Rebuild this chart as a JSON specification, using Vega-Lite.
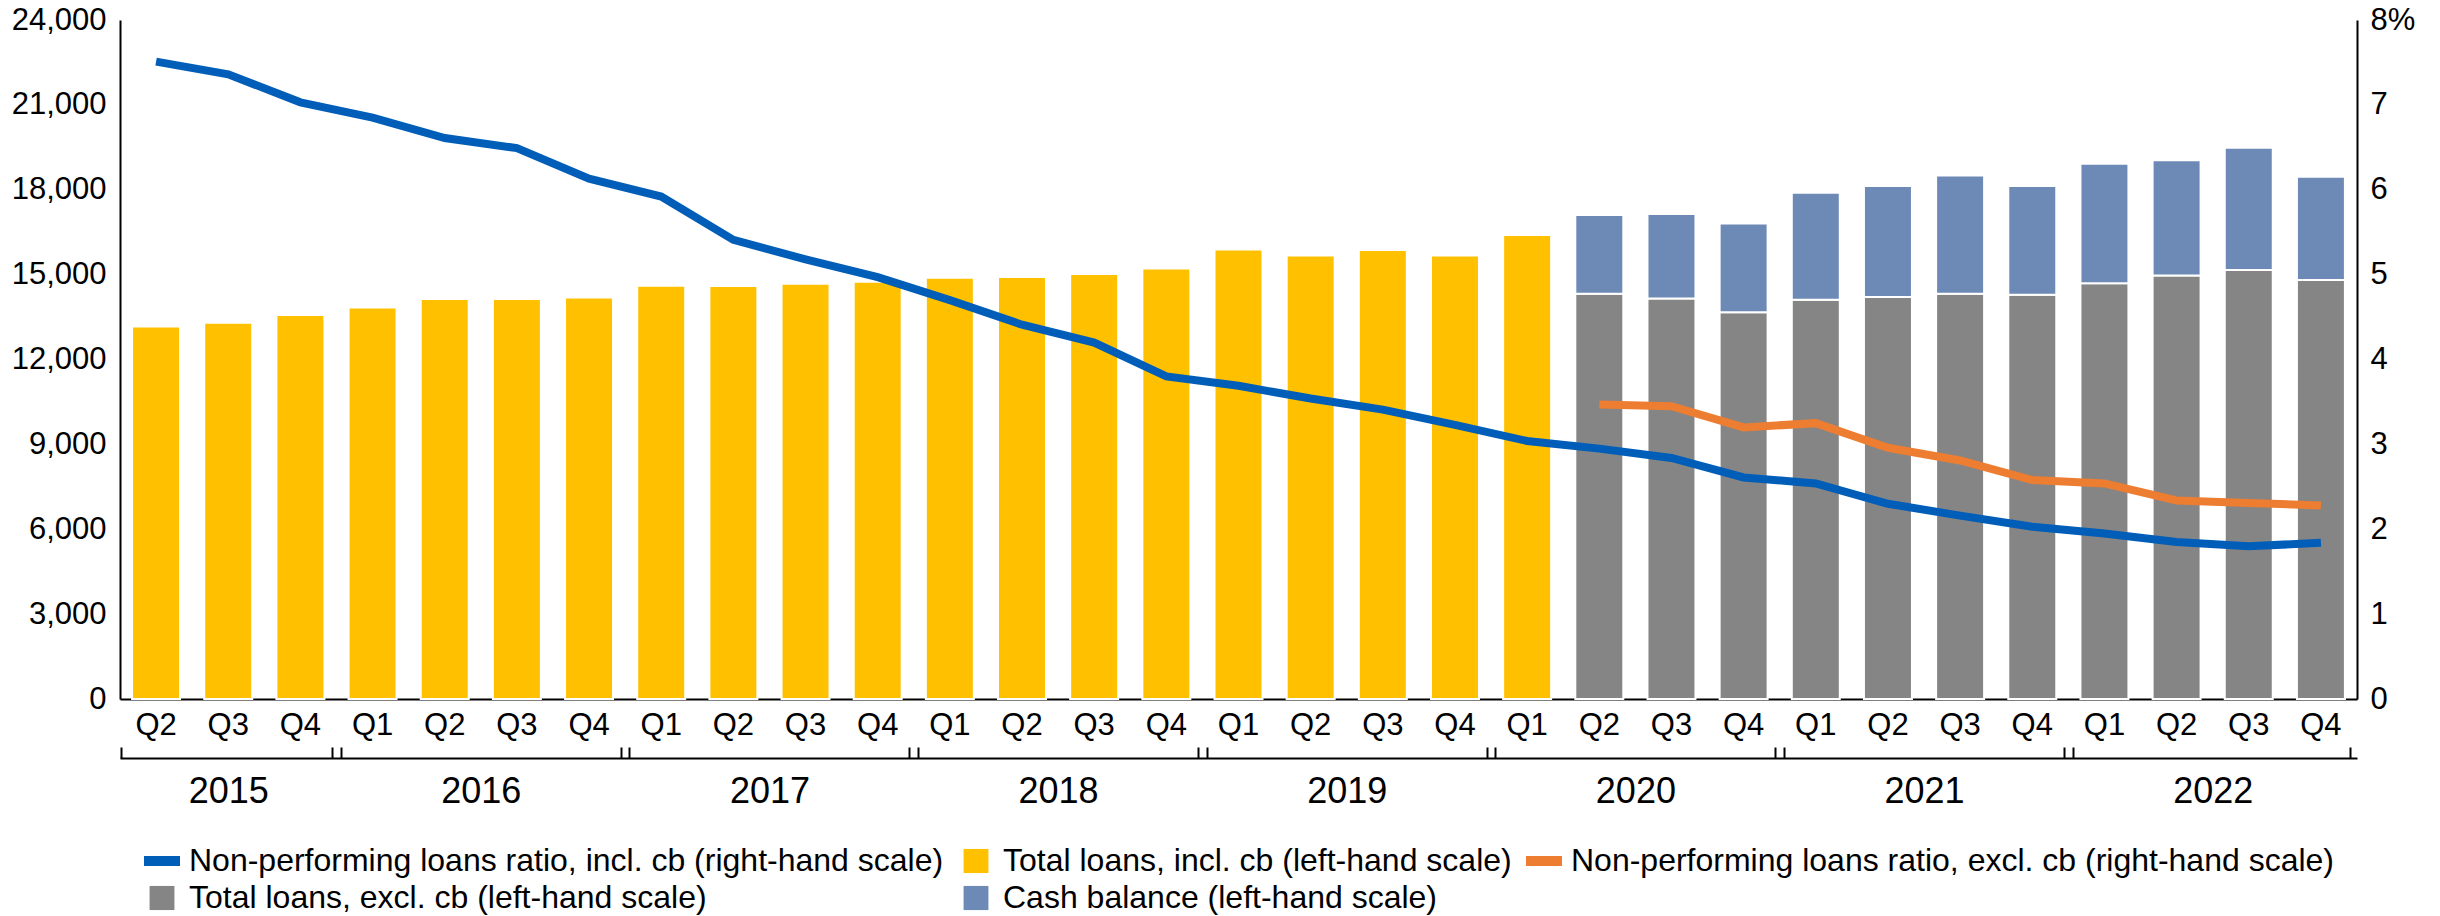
{
  "$schema": "https://vega.github.io/schema/vega-lite/v6.json",
  "width": 2237,
  "height": 679,
  "autosize": {"type": "none"},
  "padding": {"left": 120, "top": 20, "right": 83, "bottom": 217},
  "background": "white",
  "config": {
    "font": "Liberation Sans",
    "view": {"stroke": null},
    "axis": {"labelFont": "Liberation Sans", "labelColor": "black", "domainColor": "black", "grid": false, "ticks": false, "title": null}
  },
  "datasets": {
    "bars": [
      {"period": "2015 Q2", "series": "Total loans, incl. cb (left-hand scale)", "value": 13170},
      {"period": "2015 Q3", "series": "Total loans, incl. cb (left-hand scale)", "value": 13300},
      {"period": "2015 Q4", "series": "Total loans, incl. cb (left-hand scale)", "value": 13575},
      {"period": "2016 Q1", "series": "Total loans, incl. cb (left-hand scale)", "value": 13835},
      {"period": "2016 Q2", "series": "Total loans, incl. cb (left-hand scale)", "value": 14140},
      {"period": "2016 Q3", "series": "Total loans, incl. cb (left-hand scale)", "value": 14140},
      {"period": "2016 Q4", "series": "Total loans, incl. cb (left-hand scale)", "value": 14190},
      {"period": "2017 Q1", "series": "Total loans, incl. cb (left-hand scale)", "value": 14610},
      {"period": "2017 Q2", "series": "Total loans, incl. cb (left-hand scale)", "value": 14600},
      {"period": "2017 Q3", "series": "Total loans, incl. cb (left-hand scale)", "value": 14680},
      {"period": "2017 Q4", "series": "Total loans, incl. cb (left-hand scale)", "value": 14750},
      {"period": "2018 Q1", "series": "Total loans, incl. cb (left-hand scale)", "value": 14890},
      {"period": "2018 Q2", "series": "Total loans, incl. cb (left-hand scale)", "value": 14920},
      {"period": "2018 Q3", "series": "Total loans, incl. cb (left-hand scale)", "value": 15020},
      {"period": "2018 Q4", "series": "Total loans, incl. cb (left-hand scale)", "value": 15220},
      {"period": "2019 Q1", "series": "Total loans, incl. cb (left-hand scale)", "value": 15890},
      {"period": "2019 Q2", "series": "Total loans, incl. cb (left-hand scale)", "value": 15680},
      {"period": "2019 Q3", "series": "Total loans, incl. cb (left-hand scale)", "value": 15870},
      {"period": "2019 Q4", "series": "Total loans, incl. cb (left-hand scale)", "value": 15680},
      {"period": "2020 Q1", "series": "Total loans, incl. cb (left-hand scale)", "value": 16400},
      {"period": "2020 Q2", "series": "Total loans, excl. cb (left-hand scale)", "value": 14320},
      {"period": "2020 Q3", "series": "Total loans, excl. cb (left-hand scale)", "value": 14160},
      {"period": "2020 Q4", "series": "Total loans, excl. cb (left-hand scale)", "value": 13670},
      {"period": "2021 Q1", "series": "Total loans, excl. cb (left-hand scale)", "value": 14110},
      {"period": "2021 Q2", "series": "Total loans, excl. cb (left-hand scale)", "value": 14205},
      {"period": "2021 Q3", "series": "Total loans, excl. cb (left-hand scale)", "value": 14320},
      {"period": "2021 Q4", "series": "Total loans, excl. cb (left-hand scale)", "value": 14290},
      {"period": "2022 Q1", "series": "Total loans, excl. cb (left-hand scale)", "value": 14695},
      {"period": "2022 Q2", "series": "Total loans, excl. cb (left-hand scale)", "value": 14970},
      {"period": "2022 Q3", "series": "Total loans, excl. cb (left-hand scale)", "value": 15165},
      {"period": "2022 Q4", "series": "Total loans, excl. cb (left-hand scale)", "value": 14810},
      {"period": "2020 Q2", "series": "Cash balance (left-hand scale)", "value": 2790},
      {"period": "2020 Q3", "series": "Cash balance (left-hand scale)", "value": 2985},
      {"period": "2020 Q4", "series": "Cash balance (left-hand scale)", "value": 3135},
      {"period": "2021 Q1", "series": "Cash balance (left-hand scale)", "value": 3780},
      {"period": "2021 Q2", "series": "Cash balance (left-hand scale)", "value": 3930},
      {"period": "2021 Q3", "series": "Cash balance (left-hand scale)", "value": 4185},
      {"period": "2021 Q4", "series": "Cash balance (left-hand scale)", "value": 3845},
      {"period": "2022 Q1", "series": "Cash balance (left-hand scale)", "value": 4220},
      {"period": "2022 Q2", "series": "Cash balance (left-hand scale)", "value": 4075},
      {"period": "2022 Q3", "series": "Cash balance (left-hand scale)", "value": 4320},
      {"period": "2022 Q4", "series": "Cash balance (left-hand scale)", "value": 3650}
    ],
    "lines": [
      {"period": "2015 Q2", "series": "Non-performing loans ratio, incl. cb (right-hand scale)", "value": 7.51},
      {"period": "2015 Q3", "series": "Non-performing loans ratio, incl. cb (right-hand scale)", "value": 7.36},
      {"period": "2015 Q4", "series": "Non-performing loans ratio, incl. cb (right-hand scale)", "value": 7.03},
      {"period": "2016 Q1", "series": "Non-performing loans ratio, incl. cb (right-hand scale)", "value": 6.85},
      {"period": "2016 Q2", "series": "Non-performing loans ratio, incl. cb (right-hand scale)", "value": 6.61},
      {"period": "2016 Q3", "series": "Non-performing loans ratio, incl. cb (right-hand scale)", "value": 6.49},
      {"period": "2016 Q4", "series": "Non-performing loans ratio, incl. cb (right-hand scale)", "value": 6.13},
      {"period": "2017 Q1", "series": "Non-performing loans ratio, incl. cb (right-hand scale)", "value": 5.92},
      {"period": "2017 Q2", "series": "Non-performing loans ratio, incl. cb (right-hand scale)", "value": 5.41},
      {"period": "2017 Q3", "series": "Non-performing loans ratio, incl. cb (right-hand scale)", "value": 5.18},
      {"period": "2017 Q4", "series": "Non-performing loans ratio, incl. cb (right-hand scale)", "value": 4.97},
      {"period": "2018 Q1", "series": "Non-performing loans ratio, incl. cb (right-hand scale)", "value": 4.70},
      {"period": "2018 Q2", "series": "Non-performing loans ratio, incl. cb (right-hand scale)", "value": 4.41},
      {"period": "2018 Q3", "series": "Non-performing loans ratio, incl. cb (right-hand scale)", "value": 4.20},
      {"period": "2018 Q4", "series": "Non-performing loans ratio, incl. cb (right-hand scale)", "value": 3.80},
      {"period": "2019 Q1", "series": "Non-performing loans ratio, incl. cb (right-hand scale)", "value": 3.69},
      {"period": "2019 Q2", "series": "Non-performing loans ratio, incl. cb (right-hand scale)", "value": 3.54},
      {"period": "2019 Q3", "series": "Non-performing loans ratio, incl. cb (right-hand scale)", "value": 3.41},
      {"period": "2019 Q4", "series": "Non-performing loans ratio, incl. cb (right-hand scale)", "value": 3.23},
      {"period": "2020 Q1", "series": "Non-performing loans ratio, incl. cb (right-hand scale)", "value": 3.04},
      {"period": "2020 Q2", "series": "Non-performing loans ratio, incl. cb (right-hand scale)", "value": 2.95},
      {"period": "2020 Q3", "series": "Non-performing loans ratio, incl. cb (right-hand scale)", "value": 2.84},
      {"period": "2020 Q4", "series": "Non-performing loans ratio, incl. cb (right-hand scale)", "value": 2.61},
      {"period": "2021 Q1", "series": "Non-performing loans ratio, incl. cb (right-hand scale)", "value": 2.54},
      {"period": "2021 Q2", "series": "Non-performing loans ratio, incl. cb (right-hand scale)", "value": 2.30},
      {"period": "2021 Q3", "series": "Non-performing loans ratio, incl. cb (right-hand scale)", "value": 2.16},
      {"period": "2021 Q4", "series": "Non-performing loans ratio, incl. cb (right-hand scale)", "value": 2.03},
      {"period": "2022 Q1", "series": "Non-performing loans ratio, incl. cb (right-hand scale)", "value": 1.95},
      {"period": "2022 Q2", "series": "Non-performing loans ratio, incl. cb (right-hand scale)", "value": 1.85},
      {"period": "2022 Q3", "series": "Non-performing loans ratio, incl. cb (right-hand scale)", "value": 1.80},
      {"period": "2022 Q4", "series": "Non-performing loans ratio, incl. cb (right-hand scale)", "value": 1.84},
      {"period": "2020 Q2", "series": "Non-performing loans ratio, excl. cb (right-hand scale)", "value": 3.47},
      {"period": "2020 Q3", "series": "Non-performing loans ratio, excl. cb (right-hand scale)", "value": 3.45},
      {"period": "2020 Q4", "series": "Non-performing loans ratio, excl. cb (right-hand scale)", "value": 3.20},
      {"period": "2021 Q1", "series": "Non-performing loans ratio, excl. cb (right-hand scale)", "value": 3.25},
      {"period": "2021 Q2", "series": "Non-performing loans ratio, excl. cb (right-hand scale)", "value": 2.96},
      {"period": "2021 Q3", "series": "Non-performing loans ratio, excl. cb (right-hand scale)", "value": 2.81},
      {"period": "2021 Q4", "series": "Non-performing loans ratio, excl. cb (right-hand scale)", "value": 2.58},
      {"period": "2022 Q1", "series": "Non-performing loans ratio, excl. cb (right-hand scale)", "value": 2.54},
      {"period": "2022 Q2", "series": "Non-performing loans ratio, excl. cb (right-hand scale)", "value": 2.34},
      {"period": "2022 Q3", "series": "Non-performing loans ratio, excl. cb (right-hand scale)", "value": 2.31},
      {"period": "2022 Q4", "series": "Non-performing loans ratio, excl. cb (right-hand scale)", "value": 2.28}
    ],
    "years": [
      {"year": "2015", "start": 0, "end": 3},
      {"year": "2016", "start": 3, "end": 7},
      {"year": "2017", "start": 7, "end": 11},
      {"year": "2018", "start": 11, "end": 15},
      {"year": "2019", "start": 15, "end": 19},
      {"year": "2020", "start": 19, "end": 23},
      {"year": "2021", "start": 23, "end": 27},
      {"year": "2022", "start": 27, "end": 31}
    ]
  },
  "layer": [
    {
      "layer": [
        {
          "data": {"name": "bars"},
          "mark": {"type": "bar", "stroke": "white", "strokeWidth": 2},
          "encoding": {
            "x": {
              "field": "period", "type": "ordinal",
              "scale": {"paddingInner": 0.335, "paddingOuter": 0.1675},
              "axis": {"orient": "bottom", "labelExpr": "split(datum.value, ' ')[1]", "labelAngle": 0, "labelFontSize": 31, "labelBaseline": "middle", "labelPadding": 26, "domainWidth": 2, "domainColor": "black", "ticks": false, "title": null, "labelOverlap": false}
            },
            "y": {
              "field": "value", "type": "quantitative", "stack": "zero",
              "scale": {"domain": [0, 24000], "nice": false},
              "axis": {"orient": "left", "values": [0, 3000, 6000, 9000, 12000, 15000, 18000, 21000, 24000], "format": ",.0f", "labelFontSize": 31, "labelPadding": 14, "domainWidth": 2, "domainColor": "black", "ticks": false, "title": null, "labelFlush": false}
            },
            "color": {
              "field": "series", "type": "nominal",
              "scale": {
                "domain": [
                  "Non-performing loans ratio, incl. cb (right-hand scale)",
                  "Total loans, incl. cb (left-hand scale)",
                  "Non-performing loans ratio, excl. cb (right-hand scale)",
                  "Total loans, excl. cb (left-hand scale)",
                  "Cash balance (left-hand scale)"
                ],
                "range": ["#005EB8", "#FFC000", "#ED7D31", "#858585", "#6D8AB6"]
              },
              "legend": {
                "orient": "none", "legendX": 24, "legendY": 823,
                "columns": 3, "direction": "horizontal",
                "columnPadding": 14, "rowPadding": 3,
                "labelFontSize": 32, "labelFont": "Liberation Sans", "labelColor": "black", "labelLimit": 1200, "labelOffset": 9,
                "symbolSize": 1296, "symbolStrokeWidth": 0, "title": null,
                "symbolType": {"expr": "indexof(datum.value, 'ratio') >= 0 ? 'M-1,-0.28H1V0.28H-1Z' : 'M-0.69,-0.67H0.69V0.67H-0.69Z'"}
              }
            },
            "order": {"field": "series", "sort": "descending"}
          }
        },
        {
          "data": {"name": "lines"},
          "mark": {"type": "line", "strokeWidth": 8},
          "encoding": {
            "x": {"field": "period", "type": "ordinal"},
            "y": {
              "field": "value", "type": "quantitative",
              "scale": {"domain": [0, 8], "nice": false},
              "axis": {"orient": "right", "values": [0, 1, 2, 3, 4, 5, 6, 7, 8], "labelExpr": "datum.value == 8 ? '8%' : datum.label", "labelFontSize": 31, "labelPadding": 13, "domainWidth": 2, "domainColor": "black", "ticks": false, "title": null, "labelFlush": false}
            },
            "color": {"field": "series", "type": "nominal"}
          }
        }
      ],
      "resolve": {"scale": {"y": "independent"}}
    },
    {
      "data": {"name": "years"},
      "mark": {"type": "rule", "opacity": 0},
      "encoding": {
        "x": {
          "field": "start", "type": "quantitative",
          "scale": {"domain": [0, 31], "nice": false, "zero": false},
          "axis": {
            "orient": "bottom", "offset": 59,
            "values": [0.02, 1.5, 2.94, 3.06, 5, 6.94, 7.06, 9, 10.94, 11.06, 13, 14.94, 15.06, 17, 18.94, 19.06, 21, 22.94, 23.06, 25, 26.94, 27.06, 29, 30.9],
            "ticks": true, "tickSize": -11, "tickWidth": 2, "tickColor": "black",
            "tickOpacity": {"condition": {"test": "datum.value == 1.5 || datum.value % 1 == 0", "value": 0}, "value": 1},
            "labelExpr": "datum.value == 1.5 ? '2015' : (datum.value % 1 == 0 ? '' + (2016 + (datum.value - 5) / 4) : '')",
            "labelFontSize": 36, "labelBaseline": "middle", "labelPadding": 44, "labelFlush": false, "labelOverlap": false,
            "domainWidth": 2, "domainColor": "black", "grid": false, "title": null
          }
        }
      }
    }
  ],
  "resolve": {"scale": {"x": "independent", "y": "independent"}}
}
